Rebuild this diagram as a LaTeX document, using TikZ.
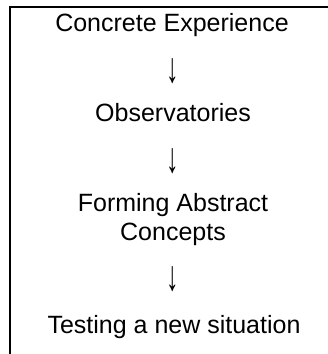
\documentclass[tikz,border=0pt]{standalone}
\usepackage{fontspec}
\usepackage{graphicx}
\setmainfont{Liberation Sans}
\begin{document}
\begin{tikzpicture}[x=1pt,y=-1pt,
  txt/.style={anchor=base,inner sep=0pt,font=\fontsize{25}{28.75}\selectfont},
  arr/.style={anchor=center,inner sep=0pt,font=\fontsize{25}{28.75}\selectfont},
  frame/.style={line width=2pt,line cap=rect}]
\useasboundingbox (0,0) rectangle (328,354);
\coordinate (tl) at (10.3,6.5);
\coordinate (tr) at (330,6.5);
\coordinate (bl) at (10.3,356);
\draw[frame] (bl) -- (tl) -- (tr);
\node[txt] (ce) at (172,31) {Concrete Experience};
\node[arr] (a1) at (173,71) {\scalebox{1}[1.7]{↓}};
\node[txt] (ob) at (173,121) {Observatories};
\node[arr] (a2) at (173,161) {\scalebox{1}[1.7]{↓}};
\node[txt] (fa) at (173,211) {Forming Abstract};
\node[txt] (co) at (173,240) {Concepts};
\node[arr] (a3) at (173,279) {\scalebox{1}[1.7]{↓}};
\node[txt] (ts) at (174,333) {Testing a new situation};
\end{tikzpicture}
\end{document}
